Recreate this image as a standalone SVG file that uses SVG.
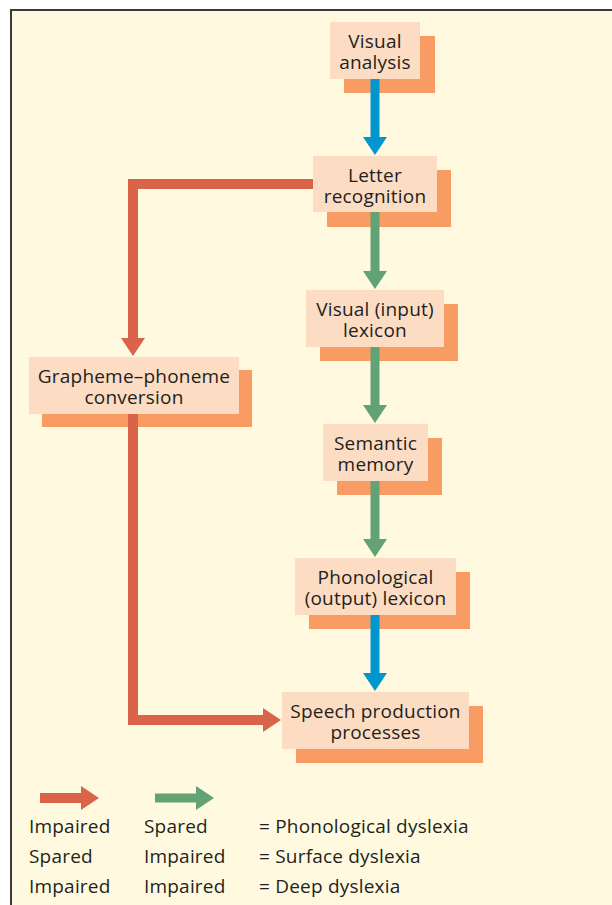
<svg xmlns="http://www.w3.org/2000/svg" width="612" height="905" viewBox="0 0 612 905">
  <style>
    .front { fill: #FDDCC4; }
    .back { fill: #F89C63; }
    .label { font-family: "Open Sans", "Noto Sans", "Liberation Sans", sans-serif; font-size: 19px; letter-spacing: 0.2px; fill: #231F20; text-anchor: middle; }
    .legend { font-family: "Open Sans", "Noto Sans", "Liberation Sans", sans-serif; font-size: 19px; letter-spacing: 0.2px; fill: #231F20; }
    .red { stroke: #D96449; stroke-width: 10; fill: none; stroke-linejoin: miter; }
    .green { stroke: #62A274; stroke-width: 9; fill: none; }
    .blue { stroke: #0096CE; stroke-width: 9; fill: none; }
  </style>
  <defs>
    <marker id="headRed" viewBox="0 0 18 24" refX="1" refY="12" markerWidth="18" markerHeight="24" markerUnits="userSpaceOnUse" orient="auto">
      <path d="M0,0 L18,12 L0,24 Z" fill="#D96449"/>
    </marker>
    <marker id="headGreen" viewBox="0 0 18 24" refX="1" refY="12" markerWidth="18" markerHeight="24" markerUnits="userSpaceOnUse" orient="auto">
      <path d="M0,0 L18,12 L0,24 Z" fill="#62A274"/>
    </marker>
    <marker id="headBlue" viewBox="0 0 18 24" refX="1" refY="12" markerWidth="18" markerHeight="24" markerUnits="userSpaceOnUse" orient="auto">
      <path d="M0,0 L18,12 L0,24 Z" fill="#0096CE"/>
    </marker>
  </defs>

  <!-- panel -->
  <rect x="0" y="0" width="612" height="905" fill="#FFFFFF"/>
  <rect x="10" y="9" width="602" height="896" fill="#FFFADF"/>
  <path d="M11,905 V10 H612" fill="none" stroke="#3A3A3A" stroke-width="2"/>

  <!-- nodes: offset shadow box, front box, two-line label -->
  <g id="visual-analysis">
    <rect class="back" x="344" y="36" width="91" height="57"/>
    <rect class="front" x="330" y="22" width="90" height="57"/>
    <text class="label" x="375" y="47.5">Visual<tspan x="375" dy="21">analysis</tspan></text>
  </g>
  <g id="letter-recognition">
    <rect class="back" x="327" y="170" width="124" height="57"/>
    <rect class="front" x="313" y="156" width="124" height="56"/>
    <text class="label" x="375" y="181.5">Letter<tspan x="375" dy="21">recognition</tspan></text>
  </g>
  <g id="visual-lexicon">
    <rect class="back" x="320" y="304" width="138" height="57"/>
    <rect class="front" x="306" y="290" width="138" height="57"/>
    <text class="label" x="375" y="315.5">Visual (input)<tspan x="375" dy="21">lexicon</tspan></text>
  </g>
  <g id="semantic-memory">
    <rect class="back" x="337" y="438" width="105" height="57"/>
    <rect class="front" x="323" y="424" width="105" height="57"/>
    <text class="label" x="375.5" y="449.5">Semantic<tspan x="375.5" dy="21">memory</tspan></text>
  </g>
  <g id="phonological-lexicon">
    <rect class="back" x="309" y="572" width="161" height="57"/>
    <rect class="front" x="295" y="558" width="161" height="57"/>
    <text class="label" x="375.5" y="583.5">Phonological<tspan x="375.5" dy="21">(output) lexicon</tspan></text>
  </g>
  <g id="speech-production">
    <rect class="back" x="296" y="706" width="187" height="57"/>
    <rect class="front" x="282" y="692" width="187" height="57"/>
    <text class="label" x="375.5" y="717.5">Speech production<tspan x="375.5" dy="21">processes</tspan></text>
  </g>
  <g id="grapheme-phoneme">
    <rect class="back" x="42" y="370" width="210" height="57"/>
    <rect class="front" x="29" y="357" width="210" height="57"/>
    <text class="label" x="134" y="382.5">Grapheme–phoneme<tspan x="134" dy="21">conversion</tspan></text>
  </g>

  <!-- connectors -->
  <g id="connectors">
    <path class="blue" d="M375,79 V138" marker-end="url(#headBlue)"/>
    <path class="green" d="M375,212 V272" marker-end="url(#headGreen)"/>
    <path class="green" d="M375,347 V406" marker-end="url(#headGreen)"/>
    <path class="green" d="M375,481 V540" marker-end="url(#headGreen)"/>
    <path class="blue" d="M375,615 V674" marker-end="url(#headBlue)"/>
    <path class="red" d="M313,184 H133 V339" marker-end="url(#headRed)"/>
    <path class="red" d="M133,414 V720 H264" marker-end="url(#headRed)"/>
  </g>

  <!-- key -->
  <g id="key">
    <path class="red" d="M40,798 H82" marker-end="url(#headRed)"/>
    <path class="green" d="M155,798 H197" marker-end="url(#headGreen)"/>
    <text class="legend" x="29" y="833">Impaired</text>
    <text class="legend" x="144" y="833">Spared</text>
    <text class="legend" x="259" y="833">= Phonological dyslexia</text>
    <text class="legend" x="29" y="863">Spared</text>
    <text class="legend" x="144" y="863">Impaired</text>
    <text class="legend" x="259" y="863">= Surface dyslexia</text>
    <text class="legend" x="29" y="893">Impaired</text>
    <text class="legend" x="144" y="893">Impaired</text>
    <text class="legend" x="259" y="893">= Deep dyslexia</text>
  </g>
</svg>
